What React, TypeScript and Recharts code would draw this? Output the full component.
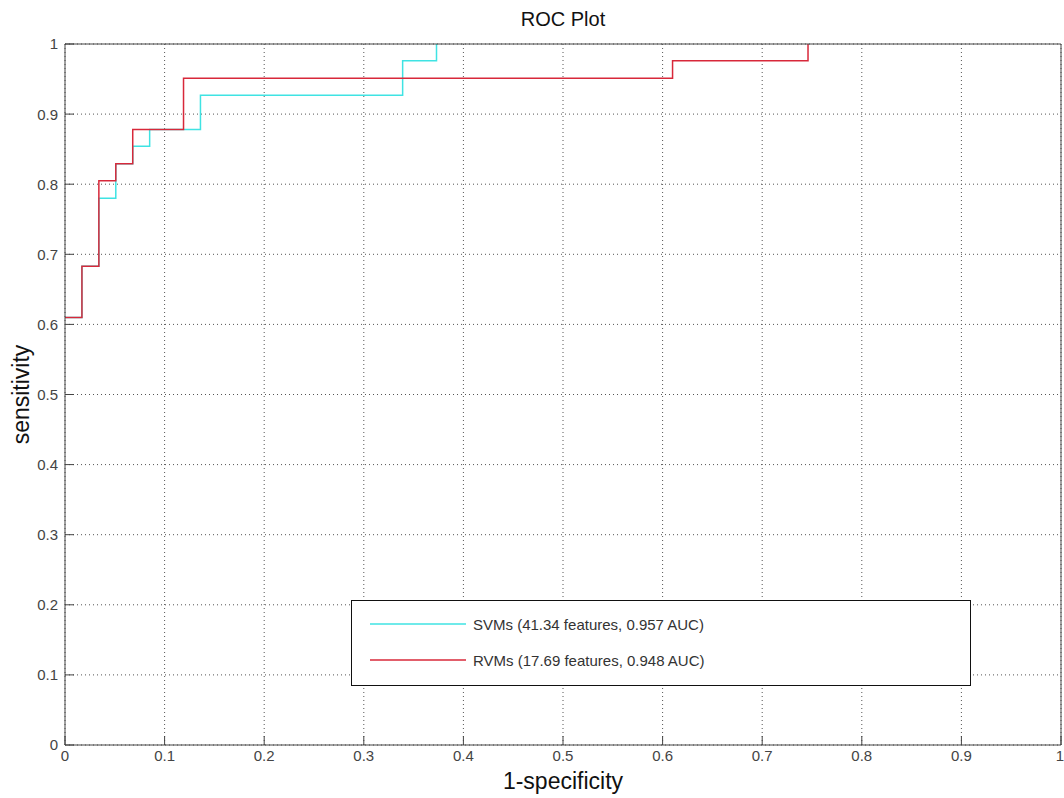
import React from "react";
import { LineChart, Line, XAxis, YAxis, CartesianGrid } from "recharts";

// ROC steps (false positive rate, true positive rate)
const svmFpr = [0, 0.017, 0.034, 0.051, 0.068, 0.085, 0.136, 0.339, 0.373];
const svmTpr = [0.61, 0.683, 0.78, 0.829, 0.854, 0.878, 0.927, 0.976, 1];
const rvmFpr = [0, 0.017, 0.034, 0.051, 0.068, 0.119, 0.61, 0.746];
const rvmTpr = [0.61, 0.683, 0.805, 0.829, 0.878, 0.951, 0.976, 1];

const axisTicks = [0, 0.1, 0.2, 0.3, 0.4, 0.5, 0.6, 0.7, 0.8, 0.9, 1];
const seriesNames = [
    "SVMs (41.34 features, 0.957 AUC)",
    "RVMs (17.69 features, 0.948 AUC)",
];
const seriesColors = ["#3fe3e3", "#d8283a"];

const svmData = svmFpr.map((x, i) => ({ x, y: svmTpr[i] }));
const rvmData = rvmFpr.map((x, i) => ({ x, y: rvmTpr[i] }));

const font = "'Liberation Sans', Arial, sans-serif";
const axisColor = "#444";
const labelStyle = { fontSize: 23, fill: "#111", fontFamily: font };

// tick label with the text a little bigger than recharts' default
const TickText = (props: any) => {
    const { x, y, payload, textAnchor, dy } = props;
    return (
        <text
            x={x}
            y={y}
            dy={dy}
            textAnchor={textAnchor}
            fontSize={15}
            fill="#444"
            fontFamily={font}
        >
            {payload.value}
        </text>
    );
};

const BottomTick = (props: any) => <TickText {...props} textAnchor="middle" dy="0.75em" />;
const LeftTick = (props: any) => <TickText {...props} textAnchor="end" dy="0.36em" />;

const App = () => {
    return (
        <div
            style={{
                position: "absolute",
                left: 0,
                top: 0,
                width: 1064,
                height: 798,
                background: "#fff",
                fontFamily: font,
            }}
        >
            <LineChart
                width={1064}
                height={798}
                margin={{ top: 0, right: 0, bottom: 0, left: 0 }}
            >
                <CartesianGrid stroke="#555" strokeDasharray="1 3" />
                <XAxis
                    dataKey="x"
                    type="number"
                    domain={[0, 1]}
                    ticks={axisTicks}
                    height={53}
                    tickSize={-9}
                    tickMargin={14}
                    stroke={axisColor}
                    tick={BottomTick}
                    allowDataOverflow
                    label={{
                        value: "1-specificity",
                        position: "insideBottom",
                        offset: 9,
                        style: labelStyle,
                    }}
                />
                <XAxis
                    xAxisId="top"
                    orientation="top"
                    type="number"
                    domain={[0, 1]}
                    ticks={axisTicks}
                    height={44}
                    tickSize={-9}
                    tick={false}
                    stroke={axisColor}
                    label={{
                        value: "ROC Plot",
                        position: "insideTop",
                        offset: 12,
                        style: { fontSize: 20, fill: "#111", fontFamily: font },
                    }}
                />
                <YAxis
                    type="number"
                    domain={[0, 1]}
                    ticks={axisTicks}
                    width={65}
                    tickSize={-9}
                    tickMargin={16}
                    stroke={axisColor}
                    tick={LeftTick}
                    allowDataOverflow
                    label={{
                        value: "sensitivity",
                        angle: -90,
                        position: "insideLeft",
                        offset: 21,
                        style: { ...labelStyle, textAnchor: "middle" },
                    }}
                />
                <YAxis
                    yAxisId="right"
                    orientation="right"
                    type="number"
                    domain={[0, 1]}
                    ticks={axisTicks}
                    width={3}
                    tickSize={-9}
                    tick={false}
                    stroke={axisColor}
                />
                <Line
                    data={svmData}
                    dataKey="y"
                    type="stepAfter"
                    stroke={seriesColors[0]}
                    strokeWidth={1.5}
                    dot={false}
                    isAnimationActive={false}
                />
                <Line
                    data={rvmData}
                    dataKey="y"
                    type="stepAfter"
                    stroke={seriesColors[1]}
                    strokeWidth={1.5}
                    dot={false}
                    isAnimationActive={false}
                />
            </LineChart>

            {/* legend box, placed like the original */}
            <div
                style={{
                    position: "absolute",
                    left: 351,
                    top: 600,
                    width: 620,
                    height: 86,
                    boxSizing: "border-box",
                    border: "1px solid #111",
                    background: "#fff",
                }}
            >
                {seriesNames.map((name, i) => (
                    <div
                        key={name}
                        style={{
                            position: "absolute",
                            left: 18,
                            top: 12 + i * 36,
                            height: 22,
                            display: "flex",
                            alignItems: "center",
                            gap: 7,
                        }}
                    >
                        <svg width={96} height={4}>
                            <line
                                x1={0}
                                x2={96}
                                y1={2}
                                y2={2}
                                stroke={seriesColors[i]}
                                strokeWidth={1.5}
                            />
                        </svg>
                        <span style={{ fontSize: 15, color: "#333" }}>{name}</span>
                    </div>
                ))}
            </div>
        </div>
    );
};

export default App;
